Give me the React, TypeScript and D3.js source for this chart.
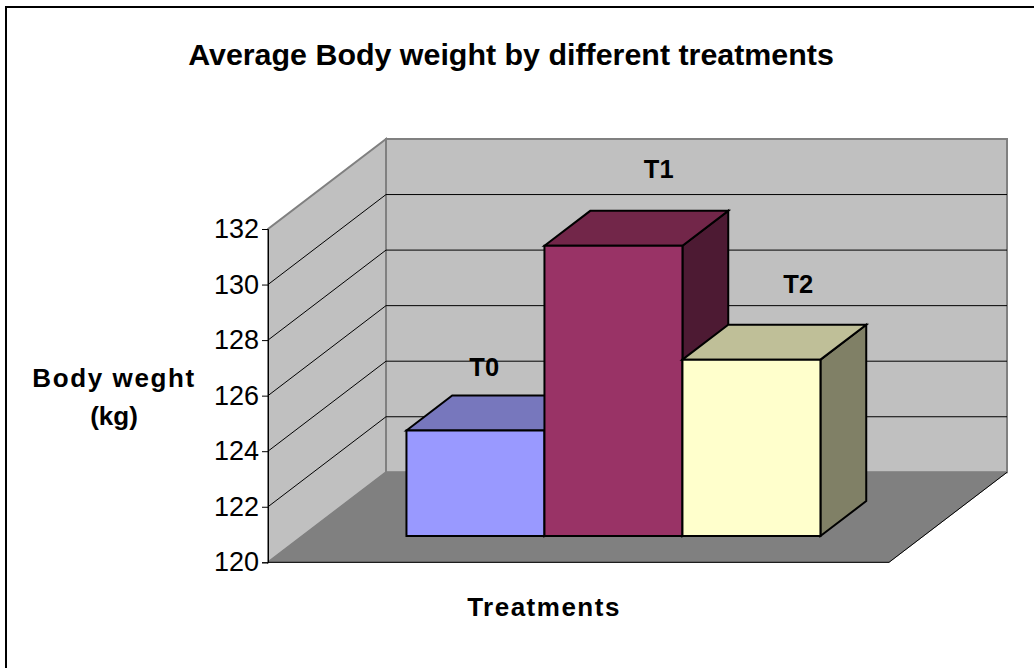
import React, { useEffect, useRef } from "react";
import * as d3 from "d3";

const categories = ["T0", "T1", "T2"];
const bodyWeight = [123.8, 130.45, 126.35];
const yTicks = [120, 122, 124, 126, 128, 130, 132];
const faceColors = ["#9999ff", "#993366", "#ffffcc"];
const topColors = ["#7777bd", "#722649", "#bfbf98"];
const sideColors = ["#4d4d7f", "#4d1a33", "#808066"];

const width = 1034;
const height = 668;

const fontFamily = "'Liberation Sans', Arial, sans-serif";

const App = () => {
  const svgRef = useRef<SVGSVGElement>(null);

  useEffect(() => {
    const svg = d3.select(svgRef.current);
    svg.selectAll("*").remove();

    const yScale = d3.scaleLinear().domain([120, 132]).range([562.3, 229]);
    const xScale = d3.scaleBand().domain(categories).range([372, 786]);
    // 0 is the front edge of the floor, 1 the back wall
    const depthX = d3.scaleLinear().domain([0, 1]).range([0, 118]);
    const depthY = d3.scaleLinear().domain([0, 1]).range([0, -90]);

    const x0 = 268;
    const x1 = 889;
    const project = (x: number, v: number, z: number): [number, number] => [
      x + depthX(z),
      yScale(v) + depthY(z),
    ];
    const poly = (pts: [number, number][]) => d3.line()(pts) + "Z";

    // frame: only the top and left edges show
    svg
      .append("path")
      .attr("d", `M6,${height}V7H${width}`)
      .attr("fill", "none")
      .attr("stroke", "#000")
      .attr("stroke-width", 2);

    // walls and floor
    const wallStroke = "#808080";
    svg
      .append("path")
      .attr("d", poly([project(x0, 120, 0), project(x0, 132, 0), project(x0, 132, 1), project(x0, 120, 1)]))
      .attr("fill", "#c0c0c0")
      .attr("stroke", wallStroke)
      .attr("stroke-width", 2);
    svg
      .append("path")
      .attr("d", poly([project(x0, 120, 1), project(x0, 132, 1), project(x1, 132, 1), project(x1, 120, 1)]))
      .attr("fill", "#c0c0c0")
      .attr("stroke", wallStroke)
      .attr("stroke-width", 2);
    svg
      .append("path")
      .attr("d", poly([project(x0, 120, 0), project(x0, 120, 1), project(x1, 120, 1), project(x1, 120, 0)]))
      .attr("fill", "#808080")
      .attr("stroke", wallStroke)
      .attr("stroke-width", 1);

    // gridlines
    const gridPath = (t: number) =>
      d3.line()([project(x0, t, 0), project(x0, t, 1), project(x1, t, 1)]);
    svg
      .append("g")
      .selectAll("path")
      .data(yTicks.slice(1, -1))
      .join("path")
      .attr("d", (d) => gridPath(d))
      .attr("fill", "none")
      .attr("stroke", "#000")
      .attr("stroke-width", 1);

    // floor edges over the grey
    svg
      .append("path")
      .attr("d", d3.line()([project(x0, 120, 0), project(x1, 120, 0), project(x1, 120, 1)]))
      .attr("fill", "none")
      .attr("stroke", "#000")
      .attr("stroke-width", 1);

    // y axis
    const yAxis = d3
      .axisLeft(yScale)
      .tickValues(yTicks)
      .tickSize(6)
      .tickPadding(3)
      .tickFormat((d) => String(d));
    const axisG = svg.append("g").attr("transform", `translate(${x0},0)`).call(yAxis);
    axisG.selectAll("path,line").attr("stroke", "#000").attr("stroke-width", 1);
    axisG
      .selectAll("text")
      .attr("fill", "#000")
      .attr("font-family", fontFamily)
      .attr("font-size", 27);

    // bars overlap left to right, so drawing order is enough
    const zFront = 0.292;
    const zBack = 0.68;
    const bars = svg
      .append("g")
      .selectAll("g")
      .data(categories)
      .join("g")
      .attr("stroke", "#000")
      .attr("stroke-width", 2)
      .attr("stroke-linejoin", "miter");

    bars.each(function (cat, i) {
      const g = d3.select(this);
      const l = xScale(cat) as number;
      const r = l + xScale.bandwidth();
      const v = bodyWeight[i];
      g.append("path")
        .attr("d", poly([project(r, 120, zFront), project(r, 120, zBack), project(r, v, zBack), project(r, v, zFront)]))
        .attr("fill", sideColors[i]);
      g.append("path")
        .attr("d", poly([project(l, v, zFront), project(l, v, zBack), project(r, v, zBack), project(r, v, zFront)]))
        .attr("fill", topColors[i]);
      g.append("path")
        .attr("d", poly([project(l, 120, zFront), project(l, v, zFront), project(r, v, zFront), project(r, 120, zFront)]))
        .attr("fill", faceColors[i]);
    });

    // series labels, placed by hand in the original chart
    const labelShift = [-37, -0.5, 1];
    const labelRaise = [20, 33, 32];
    svg
      .append("g")
      .selectAll("text")
      .data(categories)
      .join("text")
      .attr("x", (d, i) => project((xScale(d) as number) + xScale.bandwidth() / 2, 120, zBack)[0] + labelShift[i])
      .attr("y", (d, i) => project(0, bodyWeight[i], zBack)[1] - labelRaise[i])
      .attr("text-anchor", "middle")
      .attr("font-family", fontFamily)
      .attr("font-weight", "bold")
      .attr("font-size", 25.5)
      .text((d) => d);

    // titles
    const text = (x: number, y: number, size: number, s: string, spacing = 0) =>
      svg
        .append("text")
        .attr("x", x)
        .attr("y", y)
        .attr("text-anchor", "middle")
        .attr("font-family", fontFamily)
        .attr("font-weight", "bold")
        .attr("font-size", size)
        .attr("letter-spacing", spacing)
        .text(s);
    text(511, 65, 30.4, "Average Body weight by different treatments");
    text(114, 387, 26, "Body weght", 1.6);
    text(114, 425, 26, "(kg)");
    text(544, 616, 26, "Treatments", 1.5);
  }, []);

  return (
    <svg
      ref={svgRef}
      width={width}
      height={height}
      style={{ position: "absolute", left: 0, top: 0, background: "#fff" }}
    />
  );
};

export default App;
